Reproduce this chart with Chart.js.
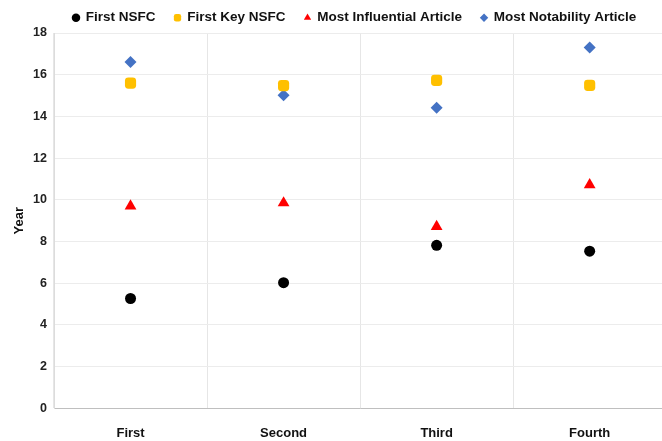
<!DOCTYPE html>
<html>
<head>
<meta charset="utf-8">
<script src="https://cdn.jsdelivr.net/npm/chart.js@4"></script>
<style>
  html, body { margin: 0; padding: 0; background: #fff; overflow: hidden; }
  #wrap { width: 662px; height: 441px; overflow: hidden; }
  canvas { display: block; }
</style>
</head>
<body>
<div id="wrap"><canvas id="c" width="673" height="441"></canvas></div>
<script>
const categories = ['First', 'Second', 'Third', 'Fourth'];
const firstNSFC = [5.27, 6.03, 7.82, 7.54];
const firstKeyNSFC = [15.6, 15.48, 15.73, 15.49];
const mostInfluential = [9.7, 9.85, 8.72, 10.72];
const mostNotability = [16.61, 15.01, 14.42, 17.3];
const yTicks = { min: 0, max: 18, step: 2 };

const FONT = 'Arial, "Liberation Sans", sans-serif';

function series(label, data, color, style, radius) {
  return {
    label, data,
    showLine: false,
    backgroundColor: color,
    borderColor: color,
    borderWidth: 0,
    pointStyle: style,
    pointRadius: radius,
    pointHoverRadius: radius
  };
}

new Chart(document.getElementById('c'), {
  type: 'line',
  data: {
    labels: categories,
    datasets: [
      series('First NSFC', firstNSFC, '#000000', 'circle', 5.5),
      series('First Key NSFC', firstKeyNSFC, '#FFC000', 'rectRounded', 6.5),
      series('Most Influential Article', mostInfluential, '#FF0000', 'triangle', 6.8),
      series('Most Notability Article', mostNotability, '#4472C4', 'rectRot', 6)
    ]
  },
  options: {
    responsive: false,
    animation: false,
    layout: { padding: { top: -8, left: 0, right: 0, bottom: -17 } },
    plugins: {
      tooltip: { enabled: false },
      legend: {
        position: 'top',
        align: 'start',
        fullSize: false,
        maxHeight: 41,
        labels: {
          usePointStyle: true,
          boxWidth: 6,
          boxHeight: 6,
          padding: 19,
          color: '#111',
          font: { family: FONT, size: 13.5, weight: 'bold' }
        }
      }
    },
    scales: {
      x: {
        offset: true,
        grid: { offset: true, color: '#e6e6e6', drawTicks: false },
        border: { color: '#bfbfbf' },
        ticks: { padding: 17, color: '#111', font: { family: FONT, size: 13, weight: 'bold' } }
      },
      y: {
        min: yTicks.min,
        max: yTicks.max,
        ticks: { stepSize: yTicks.step, padding: 7, color: '#222', font: { family: FONT, size: 12.5, weight: 'bold' } },
        grid: { color: '#ececec', drawTicks: false },
        border: { color: '#dcdcdc' },
        title: {
          display: true, text: 'Year', color: '#111',
          padding: { top: 12, bottom: 0 },
          font: { family: FONT, size: 13, weight: 'bold' }
        },
        afterFit(scale) { scale.width = 54; }
      }
    }
  }
});
</script>
</body>
</html>
